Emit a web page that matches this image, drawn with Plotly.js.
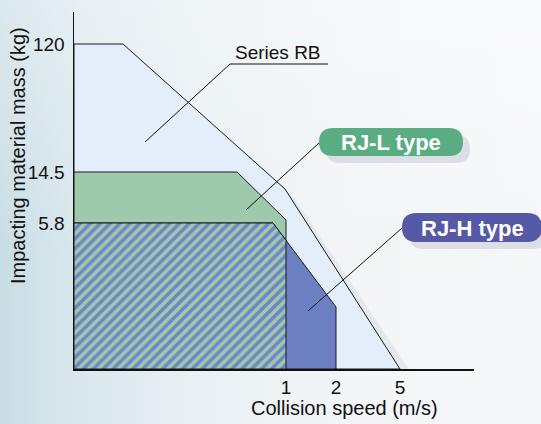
<!DOCTYPE html>
<html>
<head>
<meta charset="utf-8">
<script src="https://cdn.plot.ly/plotly-3.0.1.min.js"></script>
<style>
  html, body { margin: 0; padding: 0; }
  body {
    width: 541px; height: 424px; overflow: hidden;
    background:
      linear-gradient(to bottom, rgba(255,255,255,0.35) 0%, rgba(255,255,255,0) 60%),
      linear-gradient(to right, #c9dde5 0%, #d9e7ed 14%, #eaf1f4 38%, #f3f5f7 65%, #f6f7f9 100%);
  }
  #chart { width: 541px; height: 424px; }
</style>
</head>
<body>
<div id="chart"></div>
<script>
// ---- Data (schematic units of the diagram) ----
const speedTickLabels = ['1', '2', '5'];
const speedTickPos    = [21.2, 26.2, 32.6];
const massTickLabels  = ['120', '14.5', '5.8'];
const massTickPos     = [32.5, 19.7, 14.6];

// Series RB envelope
const rbX = [0, 0, 4.9, 21.1, 32.6, 0];
const rbY = [0, 32.5, 32.5, 18.0, 0, 0];
// RJ-L type envelope
const rjlX = [0, 0, 16.3, 21.2, 21.2, 0];
const rjlY = [0, 19.7, 19.7, 14.9, 0, 0];
// RJ-H type envelope
const rjhX = [0, 0, 19.9, 26.2, 26.2, 0];
const rjhY = [0, 14.6, 14.6, 6.2, 0, 0];

// overlap of RJ-L and RJ-H (hatched): computed from the two envelopes
const slope = (rjhY[3] - rjhY[2]) / (rjhX[3] - rjhX[2]);
const cutY = rjhY[2] + slope * (rjlX[3] - rjhX[2]);
const ovX = [0, 0, rjhX[2], rjlX[3], rjlX[4], 0];
const ovY = [0, rjhY[1], rjhY[2], cutY, 0, 0];

const FONT = 'Liberation Sans, Arial, Helvetica, sans-serif';
const edge = {color: '#1a1a1a', width: 1};

const traces = [
  // soft shadow of the RB envelope
  {x: rbX.map(v => v + 0.9), y: rbY.map(v => Math.max(v - 0.9, 0)), type: 'scatter', mode: 'lines',
   fill: 'toself', fillcolor: 'rgba(120,130,150,0.10)', line: {width: 0}, hoverinfo: 'skip', showlegend: false},
  {x: rbX, y: rbY, type: 'scatter', mode: 'lines', fill: 'toself',
   fillcolor: '#e3eefa', line: edge, hoverinfo: 'skip', showlegend: false},
  {x: rjlX, y: rjlY, type: 'scatter', mode: 'lines', fill: 'toself',
   fillcolor: '#9ecaab', line: edge, hoverinfo: 'skip', showlegend: false},
  {x: rjhX, y: rjhY, type: 'scatter', mode: 'lines', fill: 'toself',
   fillcolor: '#6c7fc1', line: edge, hoverinfo: 'skip', showlegend: false},
  {x: ovX, y: ovY, type: 'scatter', mode: 'lines', fill: 'toself',
   fillcolor: '#9ecaab',
   fillpattern: {shape: '/', bgcolor: '#9ecaab', fgcolor: '#7185c6', size: 7, solidity: 0.5},
   line: edge, hoverinfo: 'skip', showlegend: false}
];

// pixel -> paper helpers (plot area: x 74..474, y 12..369)
const L = 74, R = 474, T = 12, B = 369;
const px = v => (v - L) / (R - L);
const py = v => (B - v) / (B - T);

function pill(x0, y0, x1, y1, color) {
  const r = (y1 - y0) / 2;
  const p = (x, y) => px(x) + ',' + py(y);
  return {
    type: 'path', xref: 'paper', yref: 'paper', layer: 'above',
    path: 'M' + p(x0 + r, y0) + ' L' + p(x1 - r, y0) +
          ' Q' + p(x1, y0) + ' ' + p(x1, y0 + r) +
          ' Q' + p(x1, y1) + ' ' + p(x1 - r, y1) +
          ' L' + p(x0 + r, y1) +
          ' Q' + p(x0, y1) + ' ' + p(x0, y0 + r) +
          ' Q' + p(x0, y0) + ' ' + p(x0 + r, y0) + ' Z',
    fillcolor: color, line: {width: 0}
  };
}
function seg(x0, y0, x1, y1, w) {
  return {type: 'line', xref: 'paper', yref: 'paper', layer: 'above',
          x0: px(x0), y0: py(y0), x1: px(x1), y1: py(y1),
          line: {color: '#111', width: w || 1}};
}

const shapes = [
  pill(326, 135, 470, 163, 'rgba(90,100,130,0.16)'),
  pill(409, 220, 547, 249, 'rgba(90,100,130,0.16)'),
  seg(230, 64, 328, 64),
  seg(230, 64, 145, 142),
  seg(319, 143, 246, 210),
  seg(402, 228, 308, 311),
  pill(319, 128, 463, 156, '#5aad83'),
  pill(402, 213, 542, 242, '#5659a6')
];

function label(text, x, y, size, color, angle) {
  return {text: text, xref: 'paper', yref: 'paper', x: px(x), y: py(y),
          xanchor: 'center', yanchor: 'middle', textangle: angle || 0,
          showarrow: false, font: {family: FONT, size: size, color: color}};
}

const annotations = [
  label('Series RB', 278, 52, 19, '#111'),
  label('<b>RJ-L type</b>', 391, 142, 22, '#ffffff'),
  label('<b>RJ-H type</b>', 472, 228, 22, '#ffffff'),
  label('Collision speed (m/s)', 344, 408, 20, '#111'),
  label('Impacting material mass (kg)', 18, 156, 20, '#111', -90)
];

const layout = {
  width: 541, height: 424,
  margin: {l: L, r: 541 - R, t: T, b: 424 - B, pad: 0},
  paper_bgcolor: 'rgba(0,0,0,0)',
  plot_bgcolor: 'rgba(0,0,0,0)',
  showlegend: false,
  xaxis: {
    range: [0, 40], showgrid: false, zeroline: false,
    showline: true, linecolor: '#111', linewidth: 1.5,
    tickmode: 'array', tickvals: speedTickPos, ticktext: speedTickLabels,
    ticks: '', ticklabelstandoff: 1,
    tickfont: {family: FONT, size: 19, color: '#111'}, fixedrange: true
  },
  yaxis: {
    range: [0, 35.7], showgrid: false, zeroline: false,
    showline: true, linecolor: '#111', linewidth: 1.5,
    tickmode: 'array', tickvals: massTickPos, ticktext: massTickLabels,
    ticks: '', ticklabelstandoff: 4,
    tickfont: {family: FONT, size: 19, color: '#111'}, fixedrange: true
  },
  shapes: shapes,
  annotations: annotations
};

Plotly.newPlot('chart', traces, layout, {displayModeBar: false, staticPlot: true});
</script>
</body>
</html>
